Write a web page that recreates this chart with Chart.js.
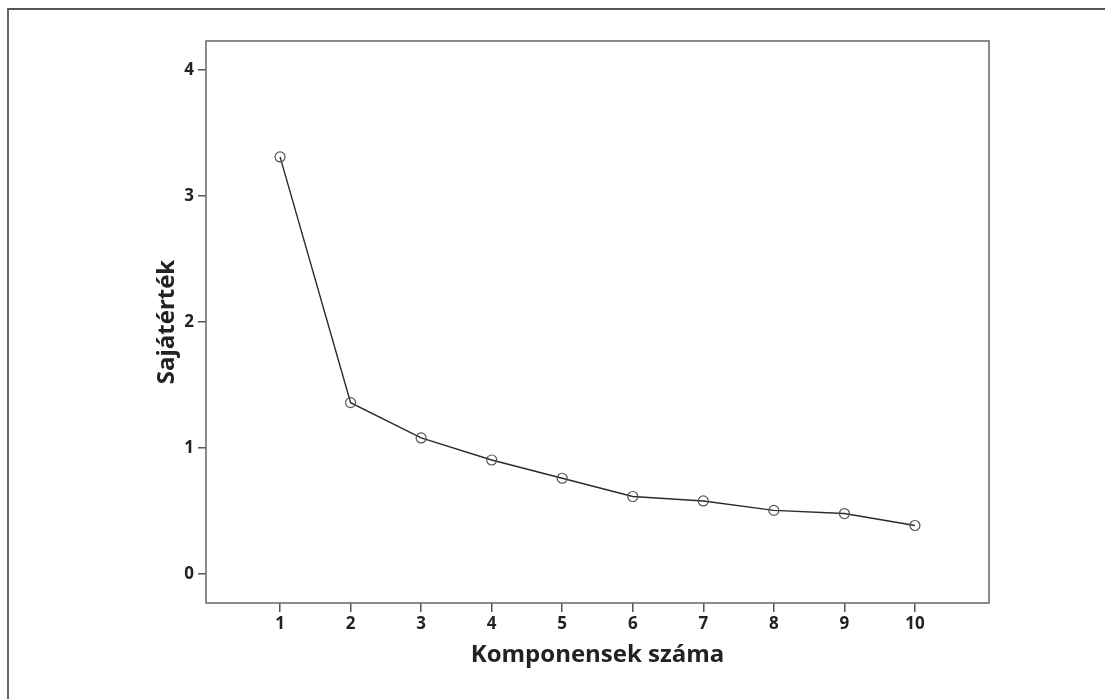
<!DOCTYPE html>
<html>
<head>
<meta charset="utf-8">
<script src="https://cdn.jsdelivr.net/npm/chart.js@4"></script>
<style>
  body { margin: 0; background: #fff; }
  #wrap { position: relative; width: 1105px; height: 699px; }
  #frame { position: absolute; left: 7px; top: 8px; right: -4px; bottom: -4px;
           border-left: 2px solid #666; border-top: 2px solid #555; pointer-events: none; }
</style>
</head>
<body>
<div id="wrap">
  <canvas id="scree" width="1105" height="699"></canvas>
  <div id="frame"></div>
</div>
<script>
const components = [1, 2, 3, 4, 5, 6, 7, 8, 9, 10];
const eigenvalues = [3.31, 1.36, 1.08, 0.905, 0.76, 0.615, 0.58, 0.505, 0.48, 0.385];
const yTicks = [0, 1, 2, 3, 4];

const xTitle = 'Komponensek száma';
const yTitle = 'Sajátérték';

// box around the plot area
const plotBox = {
  id: 'plotBox',
  afterDraw(chart) {
    const a = chart.chartArea;
    const ctx = chart.ctx;
    ctx.save();
    ctx.strokeStyle = '#666';
    ctx.lineWidth = 1.5;
    ctx.strokeRect(a.left, a.top, a.right - a.left, a.bottom - a.top);
    ctx.restore();
  }
};

const tickFont = { family: 'Open Sans', weight: 'bold', size: 17 };
const titleFont = { family: 'Open Sans', weight: 'bold', size: 24 };

new Chart(document.getElementById('scree').getContext('2d'), {
  type: 'line',
  data: {
    datasets: [{
      data: components.map((c, i) => ({ x: c, y: eigenvalues[i] })),
      borderColor: '#2a2a2a',
      borderWidth: 1.4,
      pointRadius: 5,
      pointBorderWidth: 1.2,
      pointBorderColor: '#555',
      pointBackgroundColor: 'rgba(0,0,0,0)',
      tension: 0
    }]
  },
  options: {
    responsive: false,
    animation: false,
    layout: { padding: { left: 140, top: 41, right: 116, bottom: 0 } },
    plugins: { legend: { display: false }, tooltip: { enabled: false } },
    scales: {
      x: {
        type: 'linear',
        min: -0.05,
        max: 11.05,
        afterBuildTicks: s => { s.ticks = components.map(v => ({ value: v })); },
        afterFit: s => { s.height = 96; },
        grid: { drawOnChartArea: false, drawTicks: true, tickLength: 9, color: '#555', lineWidth: 1.5 },
        border: { display: false },
        ticks: { color: '#222', font: tickFont, padding: 2, maxRotation: 0 },
        title: { display: true, text: xTitle, color: '#222', font: titleFont, padding: { top: 0, bottom: 29 } }
      },
      y: {
        min: -0.23,
        max: 4.23,
        afterBuildTicks: s => { s.ticks = yTicks.map(v => ({ value: v })); },
        afterFit: s => { s.width = 66; },
        grid: { drawOnChartArea: false, drawTicks: true, tickLength: 8, color: '#555', lineWidth: 1.5 },
        border: { display: false },
        ticks: { color: '#222', font: tickFont, padding: 4 },
        title: { display: true, text: yTitle, color: '#222', font: titleFont, padding: { top: 13, bottom: 0 } }
      }
    }
  },
  plugins: [plotBox]
});
</script>
</body>
</html>
